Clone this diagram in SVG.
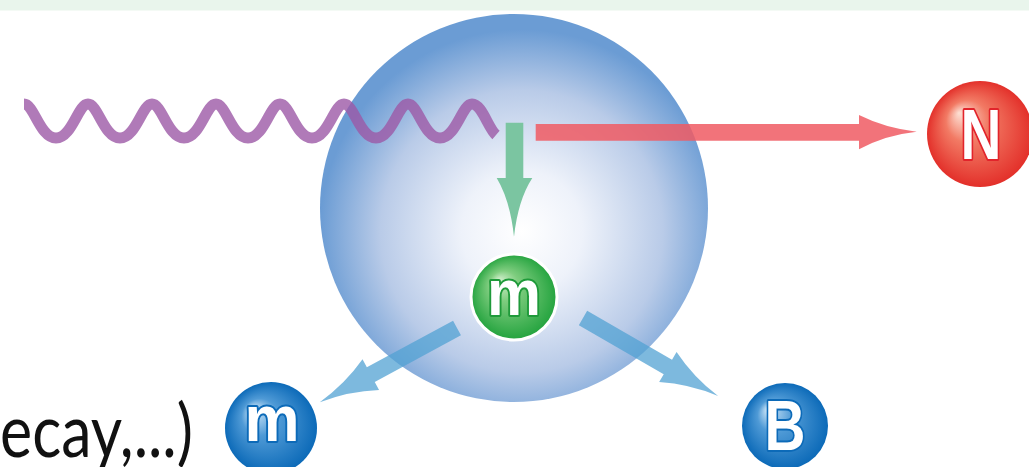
<svg xmlns="http://www.w3.org/2000/svg" xmlns:xlink="http://www.w3.org/1999/xlink" width="1029" height="467" viewBox="0 0 1029 467">
<style>
.lbl{font-family:"Liberation Sans",Arial,sans-serif;font-weight:bold;text-anchor:middle;fill:#fff;paint-order:stroke;stroke-linejoin:round}
.cap{font-family:Lato,"Liberation Sans",sans-serif;fill:#111}
</style>
<defs>
<radialGradient id="gSphere" cx="0.52" cy="0.56" r="0.52">
<stop offset="0" stop-color="#ffffff"/>
<stop offset="0.3" stop-color="#eef2fa"/>
<stop offset="0.7" stop-color="#b9cbe8"/>
<stop offset="1" stop-color="#6b9cd4"/>
</radialGradient>
<radialGradient id="gGreen" cx="0.5" cy="0.5" r="0.5" fx="0.32" fy="0.3">
<stop offset="0" stop-color="#d4f0cf"/>
<stop offset="0.35" stop-color="#7fcd7f"/>
<stop offset="1" stop-color="#23a33e"/>
</radialGradient>
<radialGradient id="gBlue" cx="0.5" cy="0.5" r="0.5" fx="0.3" fy="0.3">
<stop offset="0" stop-color="#d6ebfa"/>
<stop offset="0.4" stop-color="#4f9ad6"/>
<stop offset="1" stop-color="#0c6ab8"/>
</radialGradient>
<radialGradient id="gRed" cx="0.5" cy="0.5" r="0.5" fx="0.3" fy="0.3">
<stop offset="0" stop-color="#fde0d4"/>
<stop offset="0.4" stop-color="#f27a64"/>
<stop offset="1" stop-color="#e3302a"/>
</radialGradient>
<path id="bArrow" d="M0,-8.3 H98 V-17.4 Q125,-4 156,0 Q125,4 98,17.4 V8.3 H0 Z"/>
</defs>
<rect x="0" y="0" width="1029" height="10.5" fill="#e9f5ec"/>
<g id="sphere"><circle cx="514" cy="208" r="194" fill="url(#gSphere)"/></g>
<g id="connectors">
<path id="wave" fill="none" stroke="#9c59a6" stroke-opacity="0.8" stroke-width="11" d="M24,104 C34,104 40,138 56,138 C72,138 78,104 88,104 C98,104 104,138 120,138 C136,138 142,104 152,104 C162,104 168,138 184,138 C200,138 206,104 216,104 C226,104 232,138 248,138 C264,138 270,104 280,104 C290,104 296,138 312,138 C328,138 334,104 344,104 C354,104 360,138 376,138 C392,138 398,104 408,104 C418,104 424,138 440,138 C456,138 462,104 472,104 C482,104 488,128 496,135"/>
<path id="arrowDown" fill="#7bc5a1" d="M505.7,122.7 H523.3 V178 H532.3 Q518,200 514,236.7 Q510,200 496.7,178 H505.7 Z"/>
<path id="arrowRight" fill="#f05b63" fill-opacity="0.85" d="M535.7,124 H859 V115 Q885,128 916.7,131.7 Q885,135 859,149.3 V140.7 H535.7 Z"/>
<use id="arrowLeftDown" xlink:href="#bArrow" fill="#51a1d3" fill-opacity="0.75" transform="translate(457,328) rotate(151.6)"/>
<use id="arrowRightDown" xlink:href="#bArrow" fill="#51a1d3" fill-opacity="0.75" transform="translate(583,318) rotate(30)"/>
</g>
<g id="nodeN">
<circle cx="980" cy="134" r="53" fill="url(#gRed)"/>
<text class="lbl" x="981" y="159" font-size="70" stroke="#e2242b" stroke-width="4" textLength="41" lengthAdjust="spacingAndGlyphs">N</text>
</g>
<g id="nodeMGreen">
<circle cx="514" cy="297" r="43" fill="url(#gGreen)" stroke="#ffffff" stroke-width="3"/>
<text class="lbl" x="514" y="315" font-size="64" stroke="#1f9a3a" stroke-width="4" textLength="54" lengthAdjust="spacingAndGlyphs">m</text>
</g>
<g id="nodeMBlue">
<circle cx="271" cy="428" r="46" fill="url(#gBlue)"/>
<text class="lbl" x="272" y="441" font-size="64" stroke="#0c6ab8" stroke-width="4" textLength="55" lengthAdjust="spacingAndGlyphs">m</text>
</g>
<g id="nodeB">
<circle cx="785" cy="426" r="43" fill="url(#gBlue)"/>
<text class="lbl" x="785" y="450" font-size="70" stroke="#0c6ab8" stroke-width="4" textLength="41" lengthAdjust="spacingAndGlyphs">B</text>
</g>
<g id="caption">
<text class="cap" x="0" y="457" font-size="74" textLength="193" lengthAdjust="spacingAndGlyphs">ecay,...)</text>
</g>
</svg>
